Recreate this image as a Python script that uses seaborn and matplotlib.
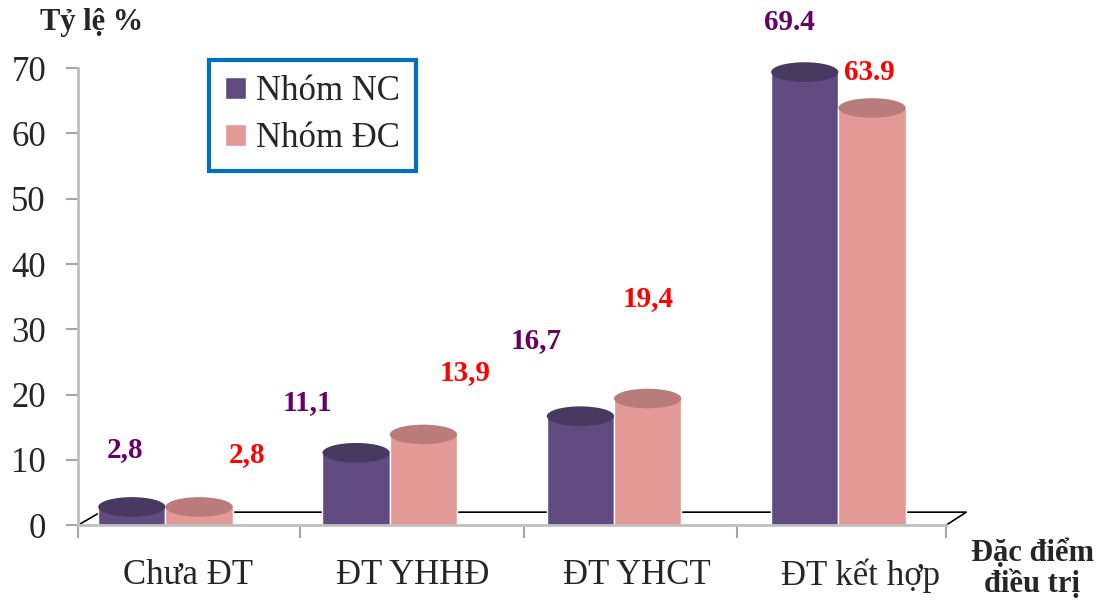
import pandas as pd
import matplotlib
matplotlib.use("Agg")
import matplotlib.pyplot as plt
import seaborn as sns
from matplotlib.patches import Ellipse

# data
categories = ["Chưa ĐT", "ĐT YHHĐ", "ĐT YHCT", "ĐT kết hợp"]
groups = ["Nhóm NC", "Nhóm ĐC"]
nc_values = [2.8, 11.1, 16.7, 69.4]
dc_values = [2.8, 13.9, 19.4, 63.9]
nc_labels = ["2,8", "11,1", "16,7", "69.4"]
dc_labels = ["2,8", "13,9", "19,4", "63.9"]
y_ticks = [0, 10, 20, 30, 40, 50, 60, 70]

colors = {"Nhóm NC": "#5F4B7F", "Nhóm ĐC": "#E39A97"}
cap_colors = {"Nhóm NC": "#483960", "Nhóm ĐC": "#B97C7A"}
label_colors = {"Nhóm NC": "#660066", "Nhóm ĐC": "#FF0000"}
# label offsets in pixels (dx, dy) from the top of each bar
nc_offsets = [(-7, 57), (-49, 50), (-44, 76), (-15, 50)]
dc_offsets = [(48, 52), (42, 62), (0, 100), (-3, 35)]

df = pd.DataFrame({
    "cat": categories * 2,
    "group": [groups[0]] * 4 + [groups[1]] * 4,
    "value": nc_values + dc_values,
})

sns.set_style("white")
plt.rcParams["font.family"] = ["Liberation Serif", "DejaVu Serif"]

fig = plt.figure(figsize=(11.03, 6.03), dpi=100)
ax = fig.add_axes([0.0707, 0.129, 0.787, 0.758])

# back floor line of the 3d chart
ax.plot([-0.39, -0.29, 3.57, 3.48], [0, 2, 2, 0], color="black", lw=1.2,
        zorder=1, clip_on=False)

sns.barplot(data=df, x="cat", y="value", hue="group", order=categories,
            hue_order=groups, palette=colors, width=0.6, gap=0,
            saturation=1, ax=ax, zorder=2, legend=True)

ax.set_xlim(-0.39, 3.48)
ax.set_ylim(0, 70)

# cylinder caps
bar_groups = {g: [] for g in groups}
n = len(categories)
for i, p in enumerate(ax.patches[:2 * n]):
    g = groups[i // n]
    bar_groups[g].append(p)
    x = p.get_x() + p.get_width() / 2
    h = p.get_height()
    ax.add_patch(Ellipse((x, h), p.get_width(), 3.0, facecolor=cap_colors[g],
                         edgecolor="none", zorder=3, clip_on=False))

for g, labels, offs in [(groups[0], nc_labels, nc_offsets),
                        (groups[1], dc_labels, dc_offsets)]:
    for p, lab, (dx, dy) in zip(bar_groups[g], labels, offs):
        x = p.get_x() + p.get_width() / 2
        ax.annotate(lab, (x, p.get_height()), xytext=(dx, dy),
                    textcoords="offset pixels", ha="center", va="center",
                    fontsize=21, fontweight="bold", color=label_colors[g],
                    annotation_clip=False)

ax.set_yticks(y_ticks)
ax.set_xticks([i + 0.1 for i in range(n)])
ax.set_xticklabels(categories, fontsize=25)
ax.set_xticks([-0.39, 0.6, 1.6, 2.55, 3.48], minor=True)
ax.tick_params(axis="x", which="major", length=0, pad=24)
ax.tick_params(axis="x", which="minor", length=9, width=1.5, color="#A6A6A6",
               direction="out", bottom=True)
ax.tick_params(axis="y", labelsize=25, length=9, width=1.5, color="#A6A6A6",
               direction="out", left=True, pad=14)

for s in ["top", "right"]:
    ax.spines[s].set_visible(False)
for s in ["left", "bottom"]:
    ax.spines[s].set_color("#BFBFBF")
    ax.spines[s].set_linewidth(2)

ax.set_xlabel("")
ax.set_ylabel("")
fig.text(0.036, 0.962, "Tỷ lệ %", fontsize=22, fontweight="bold",
         ha="left", va="center")
fig.text(0.936, 0.057, "Đặc điểm\nđiều trị", fontsize=22, fontweight="bold",
         ha="center", va="center", linespacing=1.05)

leg = ax.legend(loc="upper left", bbox_to_anchor=(0.174, 0.930),
                bbox_transform=fig.transFigure, fontsize=25, frameon=True,
                fancybox=False, framealpha=1, handlelength=0.6,
                handleheight=0.6, labelspacing=0.4, borderpad=0.45,
                handletextpad=0.3)
leg.get_frame().set_edgecolor("#0070C0")
leg.get_frame().set_linewidth(3)

fig.savefig("out.png", dpi=100)
